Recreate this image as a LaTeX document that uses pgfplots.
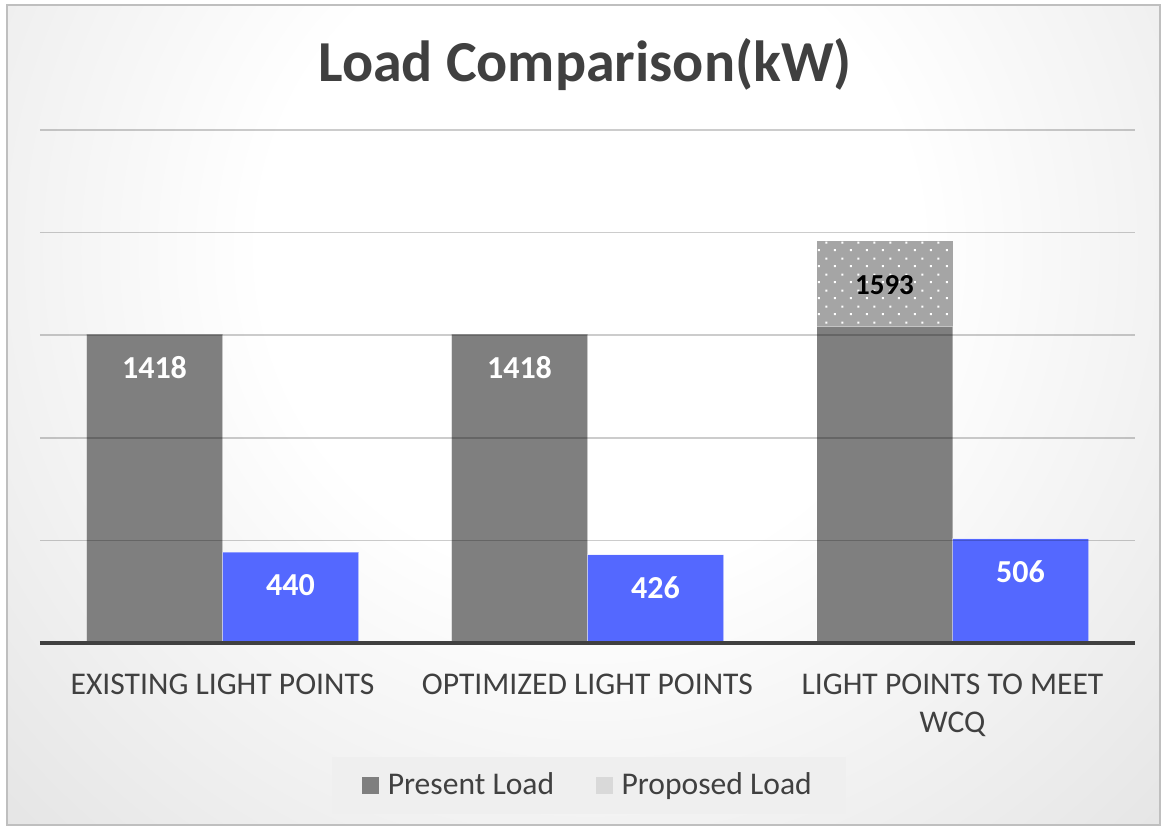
\documentclass[border=0pt]{standalone}
\usepackage{pgfplots}
\pgfplotsset{compat=1.18}
\usepackage{fontspec}
\setmainfont{Carlito}
\usetikzlibrary{patterns.meta}
\definecolor{txt}{HTML}{404040}
\definecolor{pres}{HTML}{7F7F7F}
\definecolor{blueb}{HTML}{5468FF}
\definecolor{dotbg}{HTML}{A5A5A5}
\definecolor{prop}{HTML}{D9D9D9}
\definecolor{legbg}{HTML}{EFEFEF}
\pgfdeclareradialshading{bgshade}{\pgfpoint{0bp}{0bp}}{color(0bp)=(white); color(10bp)=(white); color(50bp)=(black!27); color(100bp)=(black!27)}
\tikzdeclarepattern{
  name=wdots, type=uncolored,
  bounding box={(0pt,0pt) and (8pt,8pt)},
  tile size={(8pt,8pt)},
  code={\fill (1pt,1pt) rectangle (2pt,2pt); \fill (5pt,5pt) rectangle (6pt,6pt);}
}
\begin{document}
\begin{tikzpicture}
\useasboundingbox (0pt,0pt) rectangle (583.5pt,414.5pt);
\fill[white] (0pt,0pt) rectangle (583.5pt,414.5pt);
\begin{scope}
\clip (3.5pt,2pt) rectangle (580pt,412pt);
\shade[shading=bgshade] (-115pt,-120.5pt) rectangle (705pt,699.5pt);
\end{scope}
\draw[black!25, line width=0.8pt] (3.5pt,2pt) rectangle (580pt,412pt);
\node[anchor=base, inner sep=0pt, text=txt, font=\fontsize{29}{34}\selectfont\bfseries] at (292.5pt,373.5pt) {Load Comparison(kW)};
\begin{axis}[
  at={(20pt,93pt)}, anchor=south west,
  scale only axis, width=547.5pt, height=256.5pt,
  xmin=-0.5, xmax=2.5, ymin=0, ymax=2500,
  axis line style={draw=none},
  ytick={500,1000,1500,2000,2500}, yticklabels={},
  ymajorgrids, grid style={black, opacity=0.2, line width=0.75pt},
  extra y ticks={0}, extra y tick labels={},
  extra y tick style={grid=major, grid style={txt, opacity=1, line width=2pt}},
  xtick={0,1,2},
  xticklabels={EXISTING LIGHT POINTS, OPTIMIZED LIGHT POINTS, {LIGHT POINTS TO MEET\\WCQ}},
  major tick length=0pt,
  xticklabel style={font=\fontsize{15.8}{19}\selectfont, text=txt, align=center, inner sep=0pt, anchor=north, yshift=-15.5pt},
  axis on top,
  legend image code/.code={\fill[#1, draw=none] (0pt,-4.25pt) rectangle (8.5pt,4.25pt); \path (10.5pt,0pt);},
  legend columns=2,
  legend style={at={(0.5015,-0.2778)}, anchor=center, draw=none, fill=legbg,
    font=\fontsize{15.8}{18}\selectfont, text=txt, inner xsep=15pt, inner ysep=6pt,
    /tikz/every even column/.append style={column sep=19pt}},
]
\addplot[ybar, bar width=0.3726, bar shift=-0.1863, fill=dotbg, draw=none,
  postaction={pattern={wdots}, pattern color=white},
  nodes near coords, point meta=explicit symbolic,
  nodes near coords style={font=\fontsize{14.5}{17}\selectfont\bfseries, text=black, anchor=center, xshift=-34pt, yshift=-22pt},
  forget plot] coordinates {(2,1959) [1593]};
\addplot[ybar, bar width=0.3726, bar shift=-0.1863, fill=pres, draw=white, draw opacity=0.35, line width=0.5pt,
  nodes near coords, point meta=explicit symbolic,
  nodes near coords style={font=\fontsize{16}{18}\selectfont\bfseries, text=white, anchor=center, xshift=-34pt, yshift=-16.5pt},
  forget plot] coordinates {(0,1505) [1418] (1,1505) [1418]};
\addplot[ybar, bar width=0.3726, bar shift=-0.1863, fill=pres, draw=white, draw opacity=0.35, line width=0.5pt,
  forget plot] coordinates {(2,1540)};
\addplot[ybar, bar width=0.3726, bar shift=0.1863, fill=blueb, draw=white, draw opacity=0.35, line width=0.5pt,
  nodes near coords, point meta=explicit symbolic,
  nodes near coords style={font=\fontsize{16}{18}\selectfont\bfseries, text=white, anchor=center, xshift=34pt, yshift=-16.5pt},
  forget plot] coordinates {(0,443) [440] (1,429) [426] (2,507) [506]};
\addlegendimage{fill=pres}
\addlegendentry{Present Load}
\addlegendimage{fill=prop}
\addlegendentry{Proposed Load}
\end{axis}
\end{tikzpicture}
\end{document}
